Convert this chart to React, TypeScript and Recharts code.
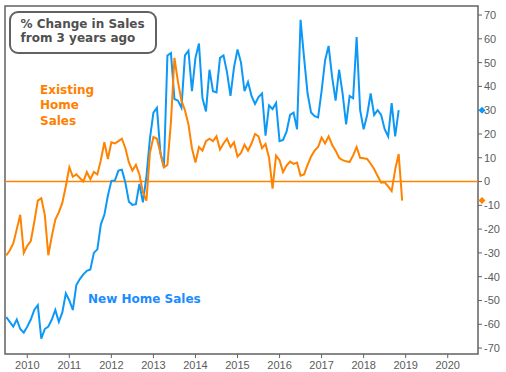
import {
  Line,
  LineChart,
  ReferenceArea,
  ReferenceDot,
  ReferenceLine,
  XAxis,
  YAxis,
} from "recharts";

// monthly, starting July 2009
const startYear = 2009.5;

const existingSales = [
  -31, -29, -26, -20, -14, -30,
  -27, -25, -17, -8, -7, -14, -31, -23, -16, -13, -9, -2,
  6, 2, 3, 1.5, 0, 4, 1, 4, 3, 9, 16.5, 9.5,
  16.5, 16, 17, 18, 14, 8, 4.6, 7, 3, -4.5, -8, 12,
  18.7, 18, 12, 6, 7, 25, 52, 42, 34, 30, 24, 14,
  8, 14.5, 13, 17, 18, 17, 19, 13.5, 16, 18, 14.5, 16.5,
  10.5, 12, 15.5, 13, 16, 20, 19, 14, 15.8, 10, -3, 10.9,
  9, 4, 6.7, 8.4, 7.4, 8, 2.5, 3, 7, 10.5, 13, 14.5,
  18.5, 16, 19, 15.5, 13, 10, 9, 8.5, 8.2, 11, 14.5, 10,
  9.8, 9.5, 7.5, 5.3, 2.3, -0.5, -0.3, -2, -4, 5, 11.6, -8,
];

const newSales = [
  -57, -59, -61, -58, -62, -63.5,
  -61, -58, -54, -52, -66, -62, -61, -58, -54, -59, -55, -47,
  -50, -54, -43.5, -41, -39, -37.5, -37, -30, -28.5, -18, -14, -6,
  0.3, 0.4, 4.6, 5, -0.5, -8.5, -9.8, -9.5, -1, -8.7, 2, 18,
  29, 31, 12, 6, 53, 54, 34.7, 34, 31, 53, 55, 38,
  52, 58, 35, 29.5, 47, 38, 37.5, 52, 53, 46, 36, 48,
  55.5, 50, 38, 41.8, 36, 32.6, 35.5, 37, 19.3, 32, 30.5, 33,
  17, 17.5, 21, 28, 29, 22, 68, 52, 37, 29, 27.5, 27,
  38, 51, 57, 44, 34, 47, 37, 24, 36, 35, 60.7, 30,
  22, 28, 37, 28, 30, 28, 22, 19, 33, 19, 30,
];

const yearTicks = [2010, 2011, 2012, 2013, 2014, 2015, 2016, 2017, 2018, 2019, 2020];
const valueTicks = [70, 60, 50, 40, 30, 20, 10, 0, -10, -20, -30, -40, -50, -60, -70];

const latestNew = 30;
const latestExisting = -8;

const xDomain: [number, number] = [2009.47, 2020.72];
const yDomain: [number, number] = [-72.5, 73.8];

const orange = "#ff8200";
const blue = "#0e98f6";
const frame = "#626262";
const tickText = "#5c5c5c";

const data = existingSales.map((value, i) => ({
  t: startYear + i / 12,
  existing: value,
  newHome: i < newSales.length ? newSales[i] : null,
}));

const tickStyle = { fill: tickText, fontSize: 11, fontFamily: "'Liberation Sans', Arial, sans-serif" };

function Diamond({ cx, cy, fill }: { cx?: number; cy?: number; fill: string }) {
  if (cx == null || cy == null) return null;
  const x = cx + 4;
  return <polygon points={`${x},${cy - 3.5} ${x + 3.5},${cy} ${x},${cy + 3.5} ${x - 3.5},${cy}`} fill={fill} />;
}

export default function App() {
  return (
    <div style={{ position: "absolute", left: 0, top: 0, width: 506, height: 372, background: "#fff" }}>
      <LineChart
        data={data}
        width={506}
        height={372}
        margin={{ top: 6, right: 0, bottom: 0, left: 5 }}
      >
        <XAxis
          dataKey="t"
          type="number"
          domain={xDomain}
          ticks={yearTicks}
          allowDataOverflow
          axisLine={false}
          tickLine={{ stroke: frame }}
          tickSize={4}
          tickMargin={3}
          height={18}
          tick={tickStyle}
        />
        <YAxis
          orientation="right"
          type="number"
          domain={yDomain}
          ticks={valueTicks}
          allowDataOverflow
          axisLine={false}
          tickLine={{ stroke: frame }}
          tickSize={4}
          tickMargin={2}
          width={28}
          tick={tickStyle}
        />
        <ReferenceLine y={0} stroke={orange} strokeWidth={1.4} strokeOpacity={1} />
        <Line
          dataKey="newHome"
          stroke={blue}
          strokeWidth={2}
          dot={false}
          isAnimationActive={false}
        />
        <Line
          dataKey="existing"
          stroke={orange}
          strokeWidth={2}
          dot={false}
          isAnimationActive={false}
        />
        <ReferenceArea
          x1={xDomain[0]}
          x2={xDomain[1]}
          y1={yDomain[0]}
          y2={yDomain[1]}
          fill="none"
          fillOpacity={0}
          stroke={frame}
          strokeWidth={1.5}
        />
        <ReferenceDot
          x={xDomain[1]}
          y={latestNew}
          ifOverflow="visible"
          shape={(p: any) => <Diamond cx={p.cx} cy={p.cy} fill={blue} />}
        />
        <ReferenceDot
          x={xDomain[1]}
          y={latestExisting}
          ifOverflow="visible"
          shape={(p: any) => <Diamond cx={p.cx} cy={p.cy} fill={orange} />}
        />
      </LineChart>

      <div
        style={{
          position: "absolute",
          left: 9,
          top: 11,
          width: 148,
          height: 43,
          boxSizing: "border-box",
          border: `2px solid ${frame}`,
          borderRadius: 9,
          background: "#fff",
        }}
      />
      <div
        style={{
          position: "absolute",
          left: 20.5,
          top: 17,
          fontFamily: "'DejaVu Sans', Verdana, sans-serif",
          fontWeight: "bold",
          fontSize: 12,
          lineHeight: "14px",
          color: "#505050",
          whiteSpace: "nowrap",
        }}
      >
        % Change in Sales
        <br />
        from 3 years ago
      </div>

      <div
        style={{
          position: "absolute",
          left: 40,
          top: 82.8,
          fontFamily: "'DejaVu Sans', Verdana, sans-serif",
          fontWeight: "bold",
          fontSize: 12,
          lineHeight: "15.5px",
          color: "#ff7f00",
          whiteSpace: "nowrap",
        }}
      >
        Existing
        <br />
        Home
        <br />
        Sales
      </div>

      <div
        style={{
          position: "absolute",
          left: 88,
          top: 291.6,
          fontFamily: "'DejaVu Sans', Verdana, sans-serif",
          fontWeight: "bold",
          fontSize: 12,
          lineHeight: "14px",
          color: "#1a8cff",
          whiteSpace: "nowrap",
        }}
      >
        New Home Sales
      </div>
    </div>
  );
}
